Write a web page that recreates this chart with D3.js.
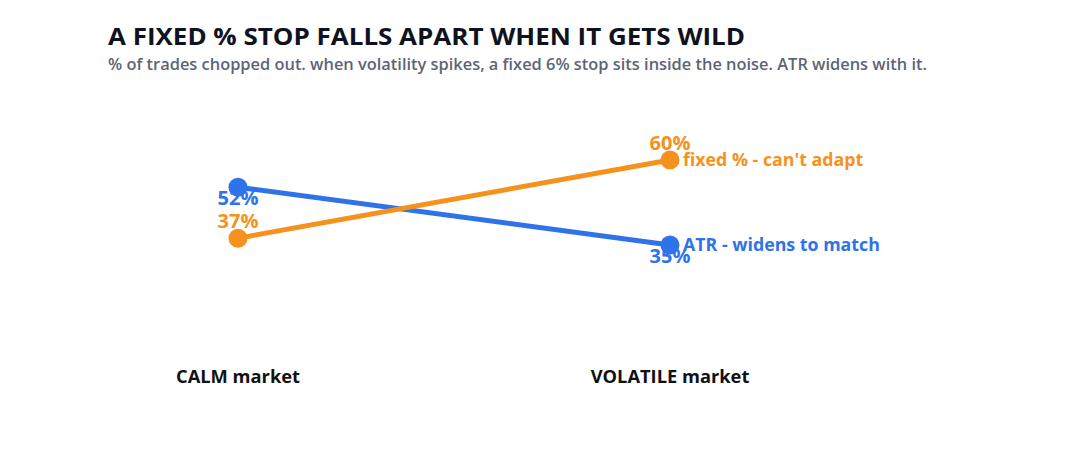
<!DOCTYPE html>
<html><head><meta charset="utf-8">
<script src="https://cdn.jsdelivr.net/npm/d3@7"></script>
<style>body{margin:0;background:#fff}svg{display:block}text{font-family:"Open Sans","Noto Sans",sans-serif}</style>
</head><body>
<svg id="c" width="1080" height="450"></svg>
<script>
const categories = ["CALM market", "VOLATILE market"];
const seriesNames = ["ATR - widens to match", "fixed % - can't adapt"];
const atrValues = [52, 35];
const fixedValues = [37, 60];
const colors = ["#2e73e8", "#f5921e"];

const svg = d3.select("#c");
const x = d3.scalePoint().domain(categories).range([238, 670]);
const y = d3.scaleLinear().domain([0, 70]).range([364, 126]);

svg.append("text").attr("x", 108).attr("y", 45).attr("font-size", 24).attr("font-weight", 700)
  .attr("fill", "#0f1320").attr("textLength", 637).attr("lengthAdjust", "spacingAndGlyphs")
  .text("A FIXED % STOP FALLS APART WHEN IT GETS WILD");
svg.append("text").attr("x", 108).attr("y", 70).attr("font-size", 15.5).attr("font-weight", 600)
  .attr("fill", "#5d6575").attr("textLength", 819).attr("lengthAdjust", "spacingAndGlyphs")
  .text("% of trades chopped out. when volatility spikes, a fixed 6% stop sits inside the noise. ATR widens with it.");

const series = [
  {name: seriesNames[0], values: atrValues, color: colors[0], dy: 18},
  {name: seriesNames[1], values: fixedValues, color: colors[1], dy: -10}
];
const line = d3.line().x((d, i) => x(categories[i])).y(d => y(d));

series.forEach(s => {
  const g = svg.append("g");
  g.append("path").attr("d", line(s.values)).attr("fill", "none").attr("stroke", s.color).attr("stroke-width", 5);
  g.selectAll("circle").data(s.values).join("circle")
    .attr("cx", (d, i) => x(categories[i])).attr("cy", d => y(d)).attr("r", 9.5).attr("fill", s.color);
  g.selectAll("text.v").data(s.values).join("text").attr("class", "v")
    .attr("x", (d, i) => x(categories[i])).attr("y", d => y(d) + s.dy)
    .attr("text-anchor", "middle").attr("font-size", 20).attr("font-weight", 700).attr("fill", s.color)
    .text(d => d + "%");
  const last = s.values[s.values.length - 1];
  g.append("text").attr("x", x(categories[categories.length - 1]) + 13).attr("y", y(last) + 6)
    .attr("font-size", 17.8).attr("font-weight", 700).attr("fill", s.color).text(s.name);
});

svg.selectAll("text.cat").data(categories).join("text").attr("class", "cat")
  .attr("x", d => x(d)).attr("y", 383).attr("text-anchor", "middle")
  .attr("font-size", 18.3).attr("font-weight", 700).attr("fill", "#111").text(d => d);
</script>
</body></html>
